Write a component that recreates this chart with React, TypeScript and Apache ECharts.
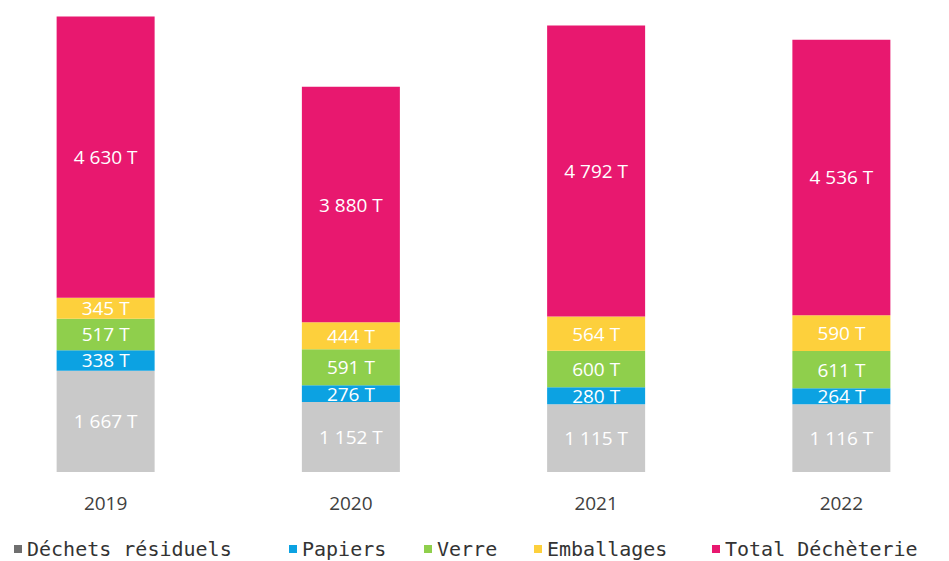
import React, { useEffect, useRef } from "react";
import * as echarts from "echarts";

const years = ["2019", "2020", "2021", "2022"];
const dechetsResiduels = [1667, 1152, 1115, 1116];
const papiers = [338, 276, 280, 264];
const verre = [517, 591, 600, 611];
const emballages = [345, 444, 564, 590];
const totalDecheterie = [4630, 3880, 4792, 4536];

const seriesNames = ["Déchets résiduels", "Papiers", "Verre", "Emballages", "Total Déchèterie"];
const seriesColors = ["#c9c9c9", "#0ca2e2", "#8fcf4c", "#fdd03c", "#e8186f"];
const legendIconColors = ["#6f6f6f", "#0ca2e2", "#8fcf4c", "#fdd03c", "#e8186f"];
const legendLefts = [14, 289, 424, 534, 712];

// inner chart is offset so the plot can extend past the page edges
const OFFSET_X = 17;
const OFFSET_Y = 14;

function fmt(v: number): string {
  const s = String(v);
  return s.replace(/\B(?=(\d{3})+(?!\d))/g, " ") + " T";
}

export default function App() {
  const ref = useRef<HTMLDivElement>(null);
  useEffect(() => {
    if (!ref.current) return;
    const chart = echarts.init(ref.current, undefined, { renderer: "svg" });
    const datasets = [dechetsResiduels, papiers, verre, emballages, totalDecheterie];
    chart.setOption({
      animation: false,
      backgroundColor: "#ffffff",
      grid: { left: 0, right: 0, top: 0, bottom: 89, containLabel: false },
      legend: seriesNames.map((n, i) => ({
        left: legendLefts[i] + OFFSET_X,
        top: 538 + OFFSET_Y,
        padding: 0,
        itemWidth: 8,
        itemHeight: 8,
        icon: "rect",
        textStyle: {
          fontFamily: "DejaVu Sans Mono",
          fontSize: 20,
          lineHeight: 22,
          color: "#333333",
        },
        data: [{ name: n, itemStyle: { color: legendIconColors[i] } }],
      })),
      xAxis: {
        type: "category",
        data: years,
        axisLine: { show: false },
        axisTick: { show: false },
        axisLabel: {
          margin: 21,
          fontFamily: "Open Sans",
          fontSize: 19,
          color: "#404040",
        },
      },
      yAxis: {
        type: "value",
        min: 0,
        max: 8000,
        show: false,
        splitLine: { show: false },
      },
      series: datasets.map((d, i) => ({
        name: seriesNames[i],
        type: "bar",
        stack: "total",
        barWidth: 98,
        data: d,
        itemStyle: { color: seriesColors[i] },
        label: {
          show: true,
          position: "inside",
          color: "#ffffff",
          fontFamily: "Open Sans",
          fontSize: 19,
          formatter: (p: any) => fmt(p.value),
        },
      })),
    });
    return () => chart.dispose();
  }, []);
  return (
    <div style={{ width: 949, height: 561, position: "absolute", left: 0, top: 0, overflow: "hidden", background: "#fff" }}>
      <div
        ref={ref}
        style={{ width: 949 + OFFSET_X + 15, height: 561 + OFFSET_Y, position: "absolute", left: -OFFSET_X, top: -OFFSET_Y }}
      />
    </div>
  );
}
